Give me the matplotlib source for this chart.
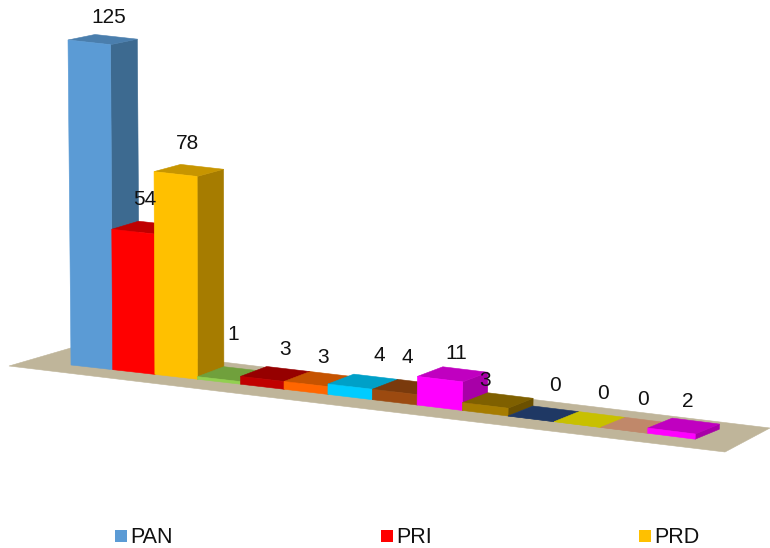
import matplotlib
matplotlib.use('Agg')
import matplotlib.pyplot as plt

plt.rcParams['font.family'] = ['Liberation Sans', 'DejaVu Sans']

# values, left to right
values = [125, 54, 78, 1, 3, 3, 4, 4, 11, 3, 0, 0, 0, 2]

legend_labels = ['PAN', 'PRI', 'PRD']

# front, top, side colour of each bar
front_colors = ['#5B9BD5', '#FF0000', '#FFC000', '#92D050', '#C00000', '#FF6600', '#00CCFF',
                '#9C4A10', '#FF00FF', '#A67C00', '#1F3864', '#C8C000', '#C0886A', '#FF00FF']
top_colors = ['#4A7EAD', '#C00000', '#C79500', '#70A03C', '#960000', '#C65300', '#00A0C8',
              '#7A3A0C', '#C000C0', '#7F6000', '#1F3864', '#C8C000', '#C0886A', '#C000C0']
side_colors = ['#3D6A90', '#A00000', '#A67C00', '#5E8A32', '#800000', '#A84600', '#0088AA',
               '#66300A', '#A800A8', '#6B5000', '#1F3864', '#C8C000', '#C0886A', '#A800A8']
floor_color = '#BFB59A'

# offset of each value label from the middle of the bar top, in pixels
label_offsets = [(20, -25), (12, -32), (12, -31), (14, -45), (23, -29), (17, -27), (29, -31),
                 (13, -34), (16, -26), (0, -25), (24, -33), (26, -31), (19, -31), (16, -30)]

PX_PER_UNIT = 2.6


def project(t, d, h):
    # t = position along the floor, d = depth 0..1, h = value
    x = 71 + 41.5 * t + 0.22 * t ** 2
    y = 365 + 4.6 * t + 0.05 * t ** 2
    x = x + d * (27 - 0.2 * t) + (x - 225) * h * 1.56e-4
    y = y - d * (10 - 4.5 * h / 125) - PX_PER_UNIT * h
    return x, y


fig = plt.figure(figsize=(7.7, 5.48), dpi=100)
ax = fig.add_axes([0, 0, 1, 1])
ax.set_xlim(0, 770)
ax.set_ylim(548, 0)
ax.axis('off')


def face(points, color):
    ax.fill([p[0] for p in points], [p[1] for p in points], color=color, lw=0.4)


# floor
face([(9, 366), (725, 452), (770, 428), (81, 345)], floor_color)

for i, v in enumerate(values):
    left, right = i, i + 1
    face([project(right, 0, 0), project(right, 1, 0), project(right, 1, v), project(right, 0, v)], side_colors[i])
    face([project(left, 0, v), project(right, 0, v), project(right, 1, v), project(left, 1, v)], top_colors[i])
    face([project(left, 0, 0), project(right, 0, 0), project(right, 0, v), project(left, 0, v)], front_colors[i])

for i, v in enumerate(values):
    x, y = project(i + 0.5, 0, v)
    ax.text(x + label_offsets[i][0], y + label_offsets[i][1], str(v), fontsize=15,
            color='#111111', ha='center', va='center')

# legend
legend_x = [115, 381, 639]
for x, name, color in zip(legend_x, legend_labels, front_colors):
    ax.add_patch(plt.Rectangle((x, 530), 12, 12, color=color, lw=0))
    ax.text(x + 15, 543, name, fontsize=15.5, color='#111111', ha='left', va='baseline')

fig.savefig('out.png', dpi=100)
